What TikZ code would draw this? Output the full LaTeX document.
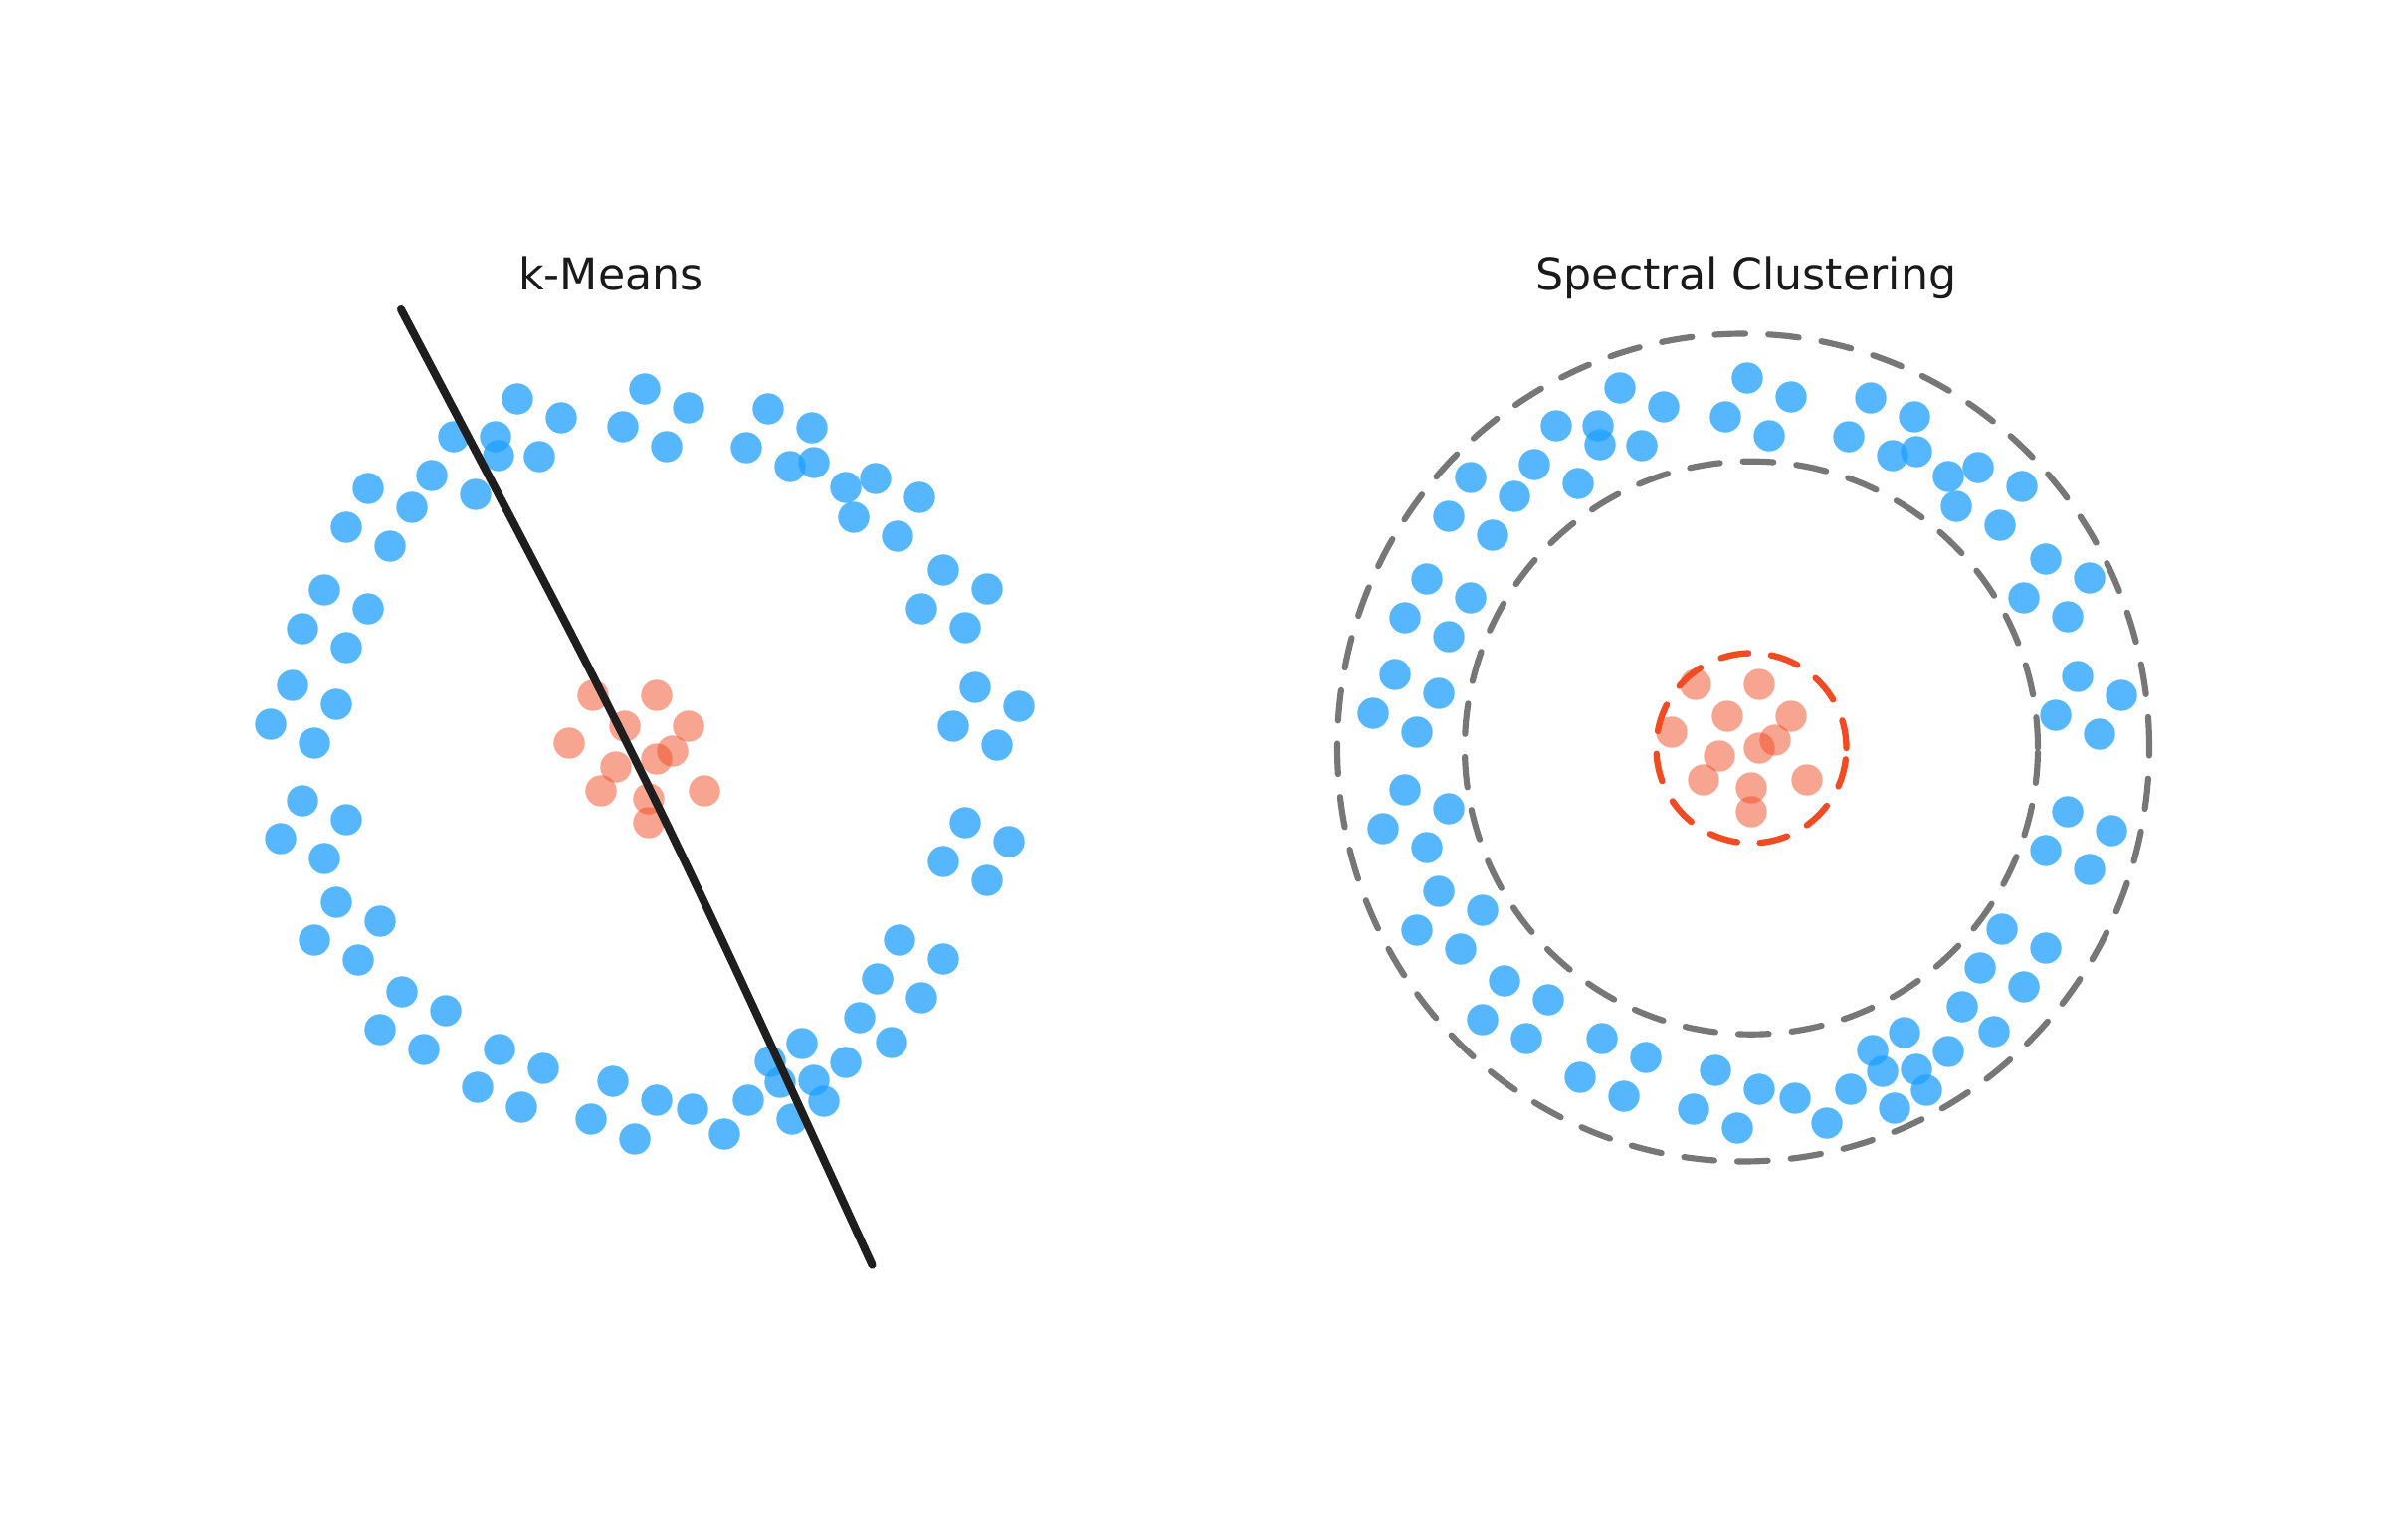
\documentclass[tikz,border=0pt]{standalone}
\usepackage{fontspec}
\newfontfamily\titlefont{DejaVu Sans}
\definecolor{ptblue}{RGB}{30,160,255}
\definecolor{ptred}{RGB}{240,75,35}
\definecolor{ringgray}{RGB}{119,119,119}
\definecolor{cutblack}{RGB}{30,30,30}
\definecolor{titlegray}{RGB}{26,26,26}

\begin{document}
\begin{tikzpicture}[
    x=0.1mm, y=-0.1mm,
    bluedot/.style={circle, fill=ptblue, fill opacity=0.75, draw=none, inner sep=0pt, minimum size=3.14mm},
    reddot/.style={circle, fill=ptred, fill opacity=0.5, draw=none, inner sep=0pt, minimum size=3.14mm},
    ring/.style={draw=ringgray, line width=1.75pt, line cap=round, dash pattern=on 8.7pt off 6.6pt},
    redring/.style={draw=ptred, line width=1.8pt, line cap=round, dash pattern=on 8.0pt off 6.5pt},
    cut/.style={draw=cutblack, line width=2.3pt, line cap=round},
    title/.style={font=\titlefont\fontsize{12.6}{15}\selectfont, text=titlegray, anchor=base, inner sep=0pt}
]
    % Frame
    \fill[white] (0,0) rectangle (2420,1532);
    \useasboundingbox (0,0) rectangle (2420,1532);

    % Titles
    \node[title] (kmtitle) at (614,291.7) {k-Means};
    \node[title] (sctitle) at (1755,291.7) {Spectral Clustering};

    % k-Means: outer ring
    \foreach \x/\y [count=\i] in {520/401, 564/420, 648/391, 626/429, 670/449, 456/439, 498/439, 501/458, 542/459, 434/478, 478/497, 370/491, 414/510, 348/530, 392/549, 326/593, 370/612, 304/632, 348/651, 294/689, 338/708, 272/728,
        692/410, 772/411, 750/450, 816/430, 794/469, 818/465, 850/490, 880/481, 858/520, 924/500, 902/539, 948/573, 992/592, 926/612, 970/631, 980/691, 1024/710, 958/730, 1002/749,
        316/747, 304/805, 348/824, 282/843, 326/863, 338/907, 382/926, 316/945, 360/965, 404/997, 448/1016, 382/1035, 426/1055, 502/1055, 546/1074, 480/1093, 524/1113, 616/1087, 660/1106, 594/1125, 638/1145,
        970/827, 1014/846, 948/866, 992/885, 904/945, 948/964, 882/984, 926/1003, 864/1023, 896/1048, 806/1049, 774/1067, 850/1068, 818/1086, 784/1088, 828/1107, 796/1125, 752/1106, 696/1115, 728/1140}
        \node[bluedot] (kmb\i) at (\x,\y) {};

    % k-Means: inner blob
    \foreach \x/\y [count=\i] in {596/699, 660/699, 628/730, 692/730, 572/747, 676/755, 660/763, 619/771, 604/795, 708/795, 652/803, 652/827}
        \node[reddot] (kmr\i) at (\x,\y) {};

    % k-Means: split line
    \coordinate (cuttop) at (403,311);
    \coordinate (cutbend) at (653,785);
    \coordinate (cutbottom) at (876.5,1271.6);
    \draw[cut] (cuttop) .. controls (cutbend) .. (cutbottom);

    % Spectral: outer ring
    \foreach \x/\y [count=\i] in {1628/390, 1672/409, 1756/380, 1734/419, 1778/438, 1564/428, 1606/428, 1608/447, 1650/448, 1542/467, 1586/486, 1478/480, 1522/499, 1456/519, 1500/538, 1434/582, 1478/601, 1412/621, 1456/640, 1402/678, 1446/697, 1380/717, 1424/736,
        1800/399, 1880/400, 1858/439, 1924/419, 1902/458, 1926/454, 1958/479, 1988/470, 1966/509, 2032/489, 2010/528, 2056/562, 2100/581, 2034/601, 2078/620, 2088/680, 2132/699, 2066/719, 2110/738,
        1412/794, 1456/813, 1390/833, 1434/852, 1446/896, 1490/915, 1424/935, 1468/954, 1512/986, 1556/1005, 1490/1025, 1534/1044, 1610/1044, 1654/1063, 1588/1083, 1632/1102, 1724/1076, 1768/1095, 1702/1115, 1746/1134,
        2078/816, 2122/835, 2056/855, 2100/874, 2012/934, 2056/953, 1990/973, 2034/992, 1972/1012, 2004/1037, 1914/1038, 1882/1056, 1958/1057, 1892/1077, 1926/1075, 1936/1096, 1904/1114, 1860/1095, 1804/1104, 1836/1129}
        \node[bluedot] (scb\i) at (\x,\y) {};

    % Spectral: inner blob
    \foreach \x/\y [count=\i] in {1704/688, 1768/688, 1736/720, 1800/720, 1680/736, 1784/744, 1768/752, 1728/760, 1712/784, 1760/792, 1816/784, 1760/816}
        \node[reddot] (scr\i) at (\x,\y) {};

    % Spectral: cluster boundaries
    \draw[ring] (1752,751.5) ellipse [x radius=40.8mm, y radius=41.6mm];
    \draw[ring] (1760,751.7) circle [radius=28.8mm];
    \draw[redring] (1760,752) circle [radius=9.55mm];
\end{tikzpicture}
\end{document}
